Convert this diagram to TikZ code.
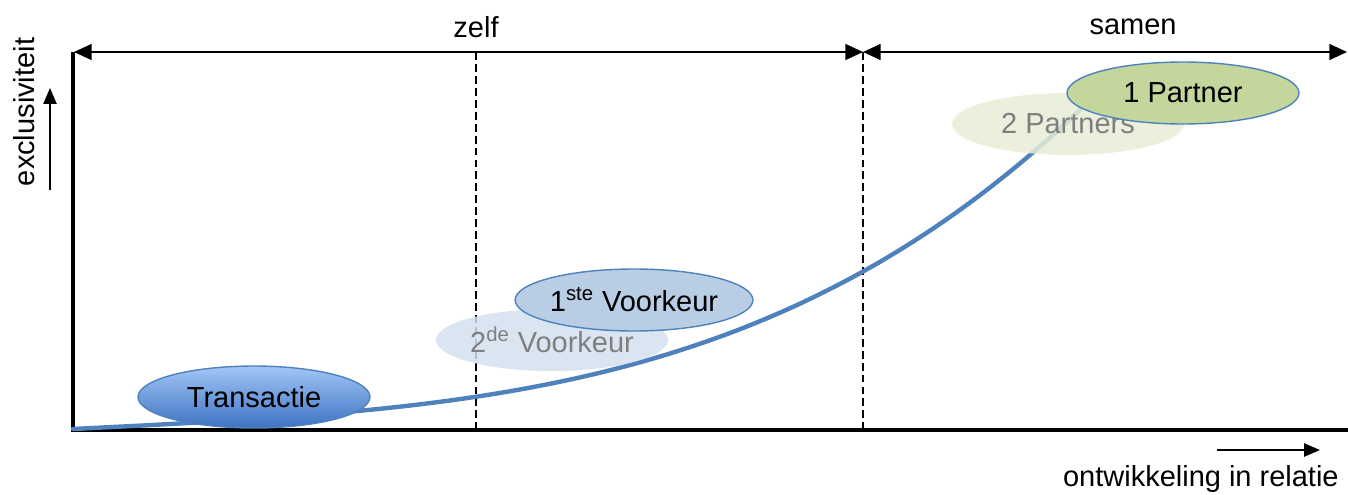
\documentclass[tikz,border=0pt]{standalone}
\usepackage{fontspec}
\setmainfont{Liberation Sans}
\usetikzlibrary{arrows.meta,shapes.geometric}

\definecolor{lijnblauw}{HTML}{4F81BD}
\definecolor{voorkeurblauw}{HTML}{B9CDE5}
\definecolor{partnergroen}{HTML}{C3D69B}
\definecolor{vaagblauw}{HTML}{D5E1F0}
\definecolor{vaaggroen}{HTML}{E6EDD6}
\definecolor{tekstgrijs}{HTML}{7F7F7F}
\definecolor{transboven}{HTML}{A2C6F7}
\definecolor{transonder}{HTML}{3E73C2}

\tikzset{
  bubble/.style={ellipse, minimum width=4.64cm, minimum height=1.24cm, inner sep=0pt,
                 font=\fontsize{16.5}{18}\selectfont},
  ghost/.style={bubble, draw=none, fill opacity=0.85, text=tekstgrijs, text opacity=1},
  label/.style={font=\fontsize{16.5}{18}\selectfont, inner sep=0pt},
  pijl/.style={-{Triangle[length=9pt,width=7.5pt]}, line width=0.8pt}
}

\begin{document}
\begin{tikzpicture}[x=0.02cm,y=-0.02cm]
  \useasboundingbox (0,0) rectangle (1348,494);
  % assen
  \coordinate (oorsprong) at (73,430);
  \coordinate (boven) at (73,52);
  \coordinate (rechts) at (1348,430);
  \draw[line width=2.3pt] (boven) -- (oorsprong) -- (rechts);
  % scheidingslijnen
  \draw[dash pattern=on 4.5pt off 2.3pt, line width=0.9pt] (476,52) -- (476,430);
  \draw[dash pattern=on 4.5pt off 2.3pt, line width=0.9pt] (863,52) -- (863,430);
  % bovenste pijlen
  \coordinate (midden) at (863,52);
  \coordinate (eind) at (1347,52);
  \draw[{Triangle[length=10pt,width=9pt]}-{Triangle[length=10pt,width=9pt]}, line width=1.1pt] (74,52) -- (midden);
  \draw[{Triangle[length=10pt,width=9pt]}-{Triangle[length=10pt,width=9pt]}, line width=1.1pt] (midden) -- (eind);
  \node[label] (zelf) at (476,27) {zelf};
  \node[label] (samen) at (1133,27) {samen};
  % asbeschrijvingen
  \node[label, rotate=90] (excl) at (24,112) {exclusiviteit};
  \coordinate (ylaag) at (50,190);
  \coordinate (yhoog) at (50,88);
  \draw[pijl] (ylaag) -- (yhoog);
  \node[label, anchor=base east] (ontw) at (1339,486) {ontwikkeling in relatie};
  \coordinate (xlinks) at (1217,450);
  \coordinate (xrechts) at (1320,450);
  \draw[pijl] (xlinks) -- (xrechts);
  % groeicurve
  \draw[lijnblauw, line width=2.5pt, line cap=round]
    plot[domain=0:1, samples=60, smooth] ({73+1037*\x},{429-349*(0.15*\x+0.85*\x^3.4)});
  % vage bubbels
  \node[ghost, fill=vaagblauw] (voorkeur2) at (552,340) {2\textsuperscript{de} Voorkeur};
  \node[ghost, fill=vaaggroen] (partners2) at (1068,124) {2 Partners};
  % bubbels
  \node[bubble, draw=lijnblauw, line width=0.8pt, top color=transboven,
        bottom color=transonder] (transactie) at (254,397) {Transactie};
  \node[bubble, draw=lijnblauw, line width=0.8pt, fill=voorkeurblauw] (voorkeur1) at (634,300) {1\textsuperscript{ste} Voorkeur};
  \node[bubble, draw=lijnblauw, line width=0.8pt, fill=partnergroen] (partner1) at (1183,93) {1 Partner};
\end{tikzpicture}
\end{document}
